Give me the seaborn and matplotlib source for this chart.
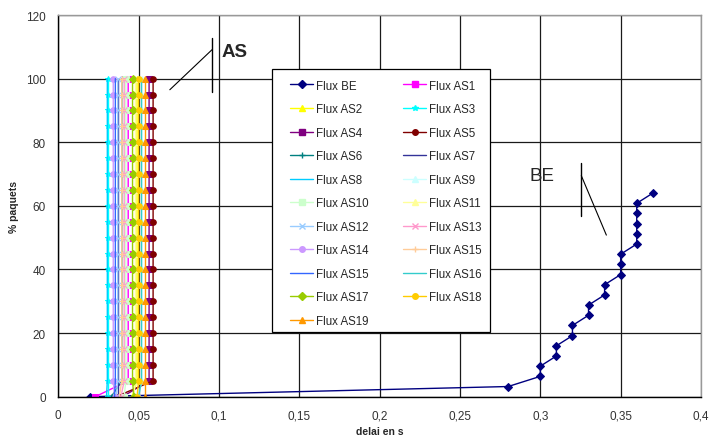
import matplotlib
matplotlib.use("Agg")
import matplotlib.pyplot as plt
import seaborn as sns
from matplotlib.lines import Line2D
from matplotlib.patches import Rectangle

sns.set_style("white")
plt.rcParams['font.family'] = ['Liberation Sans', 'DejaVu Sans']

# ---- data ----
BE_X = [0.020, 0.280, 0.300, 0.300, 0.310, 0.310, 0.320, 0.320, 0.330, 0.330, 0.340,
        0.340, 0.350, 0.350, 0.350, 0.360, 0.360, 0.360, 0.360, 0.360, 0.370]
BE_Y = [0.0, 3.2, 6.4, 9.6, 12.8, 16.0, 19.2, 22.4, 25.6, 28.8, 32.0,
        35.2, 38.4, 41.6, 44.8, 48.0, 51.2, 54.4, 57.6, 60.8, 64.0]

PERCENT_LEVELS = [0, 5, 10, 15, 20, 25, 30, 35, 40, 45, 50,
                  55, 60, 65, 70, 75, 80, 85, 90, 95, 100]

AS_NAMES = ["Flux AS1", "Flux AS2", "Flux AS3", "Flux AS4", "Flux AS5", "Flux AS6",
            "Flux AS7", "Flux AS8", "Flux AS9", "Flux AS10", "Flux AS11", "Flux AS12",
            "Flux AS13", "Flux AS14", "Flux AS15", "Flux AS15", "Flux AS16", "Flux AS17",
            "Flux AS18", "Flux AS19"]
AS_START_X = [0.023, 0.046, 0.031, 0.040, 0.036, 0.033, 0.037, 0.030, 0.050, 0.041,
              0.047, 0.036, 0.039, 0.035, 0.038, 0.035, 0.050, 0.047, 0.049, 0.054]
AS_COLUMN_X = [0.0435, 0.049, 0.031, 0.0565, 0.059, 0.0395, 0.037, 0.0305, 0.052, 0.042,
               0.048, 0.037, 0.041, 0.0342, 0.0395, 0.0355, 0.0518, 0.0462, 0.050, 0.054]

AS_COLORS = ["#FF00FF", "#FFFF00", "#00FFFF", "#800080", "#800000", "#008080",
             "#333399", "#00CCFF", "#CCFFFF", "#CCFFCC", "#FFFF99", "#99CCFF",
             "#FF99CC", "#CC99FF", "#FFCC99", "#3366FF", "#33CCCC", "#99CC00",
             "#FFCC00", "#FF9900"]
AS_MARKERS = ["s", "^", "*", "s", "o", "+", None, None, "^", "s", "^", "x",
              "x", "o", "+", None, None, "D", "o", "^"]

X_TICKS = [0, 0.05, 0.1, 0.15, 0.2, 0.25, 0.3, 0.35, 0.4]
X_TICK_LABELS = ["0", "0,05", "0,1", "0,15", "0,2", "0,25", "0,3", "0,35", "0,4"]
Y_TICKS = [0, 20, 40, 60, 80, 100, 120]
Y_TICK_LABELS = ["0", "20", "40", "60", "80", "100", "120"]

W, H = 709, 439
AX_L, AX_R, AX_T, AX_B = 58.3, 701.0, 16.0, 397.7
fig = plt.figure(figsize=(W / 100, H / 100), dpi=100)
ax = fig.add_axes([AX_L / W, 1 - AX_B / H, (AX_R - AX_L) / W, (AX_B - AX_T) / H])

def fx(px):
    return (px - AX_L) / (AX_R - AX_L)

def fy(py):
    return (AX_B - py) / (AX_B - AX_T)

sns.lineplot(x=BE_X, y=BE_Y, ax=ax, color="#000080", marker="D", markersize=4.5,
             markeredgecolor="#000080", linewidth=1.0, sort=False, estimator=None)
be_handle = Line2D([], [], color="#000080", marker="D", markersize=4,
                   markeredgecolor="#000080", linewidth=1.0)

as_handles = []
for i, name in enumerate(AS_NAMES):
    xs = [AS_START_X[i]] + [AS_COLUMN_X[i]] * (len(PERCENT_LEVELS) - 1)
    ys = PERCENT_LEVELS
    mk = AS_MARKERS[i]
    kw = dict(color=AS_COLORS[i], linewidth=1.0, sort=False, estimator=None, ax=ax)
    if mk is not None:
        kw.update(marker=mk, markersize=4.0, markeredgecolor=AS_COLORS[i])
    sns.lineplot(x=xs, y=ys, **kw)
    as_handles.append(Line2D([], [], color=AS_COLORS[i], linewidth=1.0,
                             marker=mk if mk else None, markersize=4,
                             markeredgecolor=AS_COLORS[i]))

ax.set_xlim(0, 0.4)
ax.set_ylim(0, 120)
ax.set_xticks(X_TICKS)
ax.set_xticklabels(X_TICK_LABELS)
ax.set_yticks(Y_TICKS)
ax.set_yticklabels(Y_TICK_LABELS)
ax.tick_params(axis="both", direction="out", length=5, width=0.8, labelsize=8.5,
               colors="#000000", pad=4)
ax.tick_params(axis="both", labelcolor="#333333")
ax.grid(True, color="#1a1a1a", linewidth=0.9)
ax.set_axisbelow(True)
for s in ["left", "bottom"]:
    ax.spines[s].set_color("#000000")
    ax.spines[s].set_linewidth(1.0)
for s in ["top", "right"]:
    ax.spines[s].set_color("#999999")
    ax.spines[s].set_linewidth(1.0)
    ax.spines[s].set_visible(True)

ax.set_xlabel("delai en s", fontsize=7.5, fontweight="bold")
ax.xaxis.set_label_coords(0.5, fy(427))
ax.set_ylabel("% paquets", fontsize=7.5, fontweight="bold")
ax.yaxis.set_label_coords(fx(19), 0.5)

# legend frame (drawn as a patch) + frameless legend
ax.add_patch(Rectangle((fx(272), fy(333)), fx(490) - fx(272), fy(70) - fy(333),
                       transform=ax.transAxes, facecolor="white", edgecolor="#000000",
                       linewidth=0.9, zorder=5))
all_h = [be_handle] + as_handles
all_l = ["Flux BE"] + AS_NAMES
order = list(range(0, 21, 2)) + list(range(1, 21, 2))
leg = ax.legend([all_h[k] for k in order], [all_l[k] for k in order], ncol=2,
                loc="upper left", bbox_to_anchor=(fx(290), fy(80.5)), fontsize=8.3,
                frameon=False, labelspacing=1.0, handlelength=2.0, handletextpad=0.25,
                columnspacing=3.0, borderpad=0.0, borderaxespad=0.0)
leg.set_zorder(6)

# annotations
ax.plot([0.0957, 0.0957], [95.9, 112.7], color="#000000", linewidth=1.0)
ax.plot([0.0694, 0.0957], [96.5, 109.1], color="#000000", linewidth=0.8)
ax.text(0.1015, 108.6, "AS", fontsize=13.5, fontweight="bold", va="center", ha="left")
ax.plot([0.3255, 0.3255], [56.9, 73.4], color="#000000", linewidth=1.0)
ax.plot([0.3255, 0.3411], [69.5, 50.8], color="#000000", linewidth=0.8)
ax.text(0.2935, 69.5, "BE", fontsize=13.5, va="center", ha="left")

fig.savefig("out.png", dpi=100)
